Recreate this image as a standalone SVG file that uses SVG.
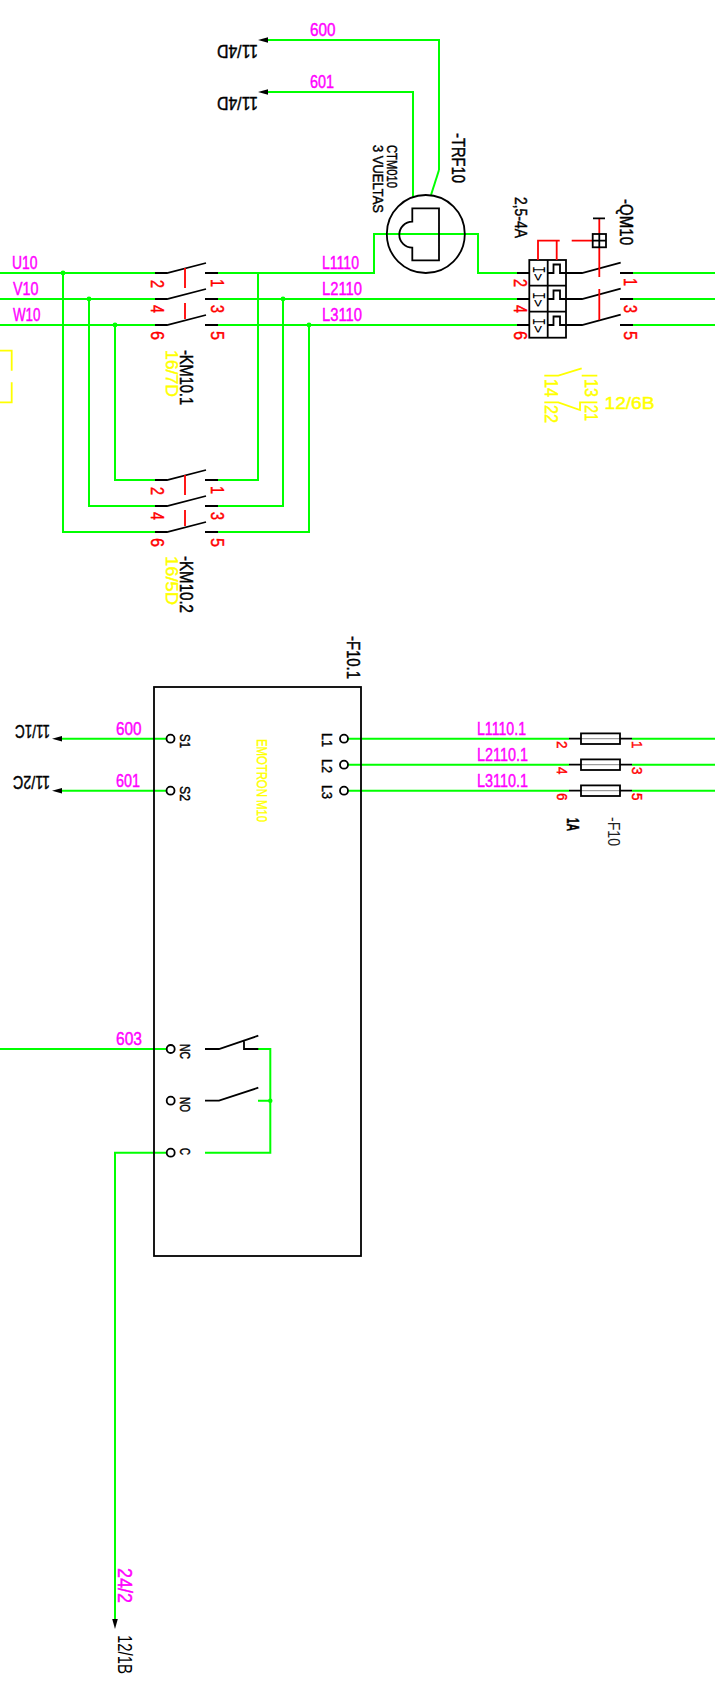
<svg xmlns="http://www.w3.org/2000/svg" xmlns:xlink="http://www.w3.org/1999/xlink" width="715" height="1683" viewBox="0 0 715 1683">
<style>
text{font-family:"Liberation Sans",Arial,sans-serif;font-size:18px;stroke-width:.45}
.w{fill:none;stroke:#00ff00;stroke-width:2}
.k{fill:none;stroke:#000;stroke-width:1.8}
.r{fill:none;stroke:#ff0000;stroke-width:1.8}
.y{fill:none;stroke:#ffff00;stroke-width:1.8}
.dot{fill:#00ff00}
.m{fill:#ff00ff;stroke:#ff00ff}
.p{fill:#ff0000;stroke:#ff0000;font-size:18px}
.p2{fill:#ff0000;stroke:#ff0000;font-size:15.5px}
.t{fill:#000;stroke:#000}
.l{fill:#ffff00;stroke:#ffff00}
.s{font-size:15.5px}
.plain{fill:#222;stroke:none;font-size:16px}
.mono{font-family:"DejaVu Sans Mono",monospace;font-size:15px;fill:#000}
</style>
<defs>
<marker id="arr" markerUnits="userSpaceOnUse" markerWidth="12" markerHeight="8" refX="0" refY="4" orient="auto" overflow="visible"><path d="M0 1.2 L10 4 L0 6.8 Z" fill="#000"/></marker>
<g id="pole"><path class="k" d="M155 0H167L206-10M205 0H218"/></g>
<g id="thermal"><path class="k" d="M548 0H553.5V-8.5H560V0H566"/></g>
<g id="fuse"><path class="k" d="M569 0H581M620 0H632"/><rect class="k" x="581" y="-5.3" width="39" height="10.6"/><path d="M581 0H620" stroke="#000" stroke-width=".8" fill="none" opacity=".6"/></g>
<circle id="term" r="4" fill="#fff" stroke="#000" stroke-width="1.8"/>
</defs>
<rect width="715" height="1683" fill="#fff"/>

<g id="connectors">
<path class="w" d="M439 170V40H268" marker-end="url(#arr)"/>
<path class="w" d="M439 170L431 195"/>
<path class="w" d="M413 197V92H268" marker-end="url(#arr)"/>
<path class="w" d="M0 273H155M218 273H374V234H478V273H517M633 273H715"/>
<path class="w" d="M0 299H155M218 299H517M633 299H715"/>
<path class="w" d="M0 325H155M218 325H517M633 325H715"/>
<path class="w" d="M115 325V480H155M89 299V506H155M63 273V532H155"/>
<path class="w" d="M258 273V480H218M283 299V506H218M309 325V532H218"/>
<circle class="dot" cx="63" cy="273" r="2.4"/><circle class="dot" cx="89" cy="299" r="2.4"/><circle class="dot" cx="115" cy="325" r="2.4"/>
<circle class="dot" cx="283" cy="299" r="2.4"/><circle class="dot" cx="309" cy="325" r="2.4"/>
<path class="w" d="M166 738.7H62" marker-end="url(#arr)"/>
<path class="w" d="M166 790.7H62" marker-end="url(#arr)"/>
<path class="w" d="M348 738.7H569M632 738.7H715M348 764.7H569M632 764.7H715M348 790.7H569M632 790.7H715"/>
<path class="w" d="M0 1049H166M258 1049H270.3V1152.7H205M258 1100.7H270.3"/>
<circle class="dot" cx="270.3" cy="1100.7" r="2.2"/>
<path class="w" d="M166 1152.7H115V1619" marker-end="url(#arr)"/>
</g>

<g id="wire-labels">
<text class="m" x="310" y="36" textLength="25.5" lengthAdjust="spacingAndGlyphs">600</text>
<text class="m" x="310" y="88" textLength="24" lengthAdjust="spacingAndGlyphs">601</text>
<text class="m" x="12" y="269" textLength="25.5" lengthAdjust="spacingAndGlyphs">U10</text>
<text class="m" x="13" y="295" textLength="25.5" lengthAdjust="spacingAndGlyphs">V10</text>
<text class="m" x="13" y="321" textLength="27.5" lengthAdjust="spacingAndGlyphs">W10</text>
<text class="m" x="322" y="269" textLength="37" lengthAdjust="spacingAndGlyphs">L1110</text>
<text class="m" x="322" y="295" textLength="40" lengthAdjust="spacingAndGlyphs">L2110</text>
<text class="m" x="322" y="321" textLength="40" lengthAdjust="spacingAndGlyphs">L3110</text>
<text class="m" x="116" y="735" textLength="25.5" lengthAdjust="spacingAndGlyphs">600</text>
<text class="m" x="116" y="787" textLength="24" lengthAdjust="spacingAndGlyphs">601</text>
<text class="m" x="116" y="1045" textLength="26" lengthAdjust="spacingAndGlyphs">603</text>
<text class="m" x="477" y="735.3" textLength="49" lengthAdjust="spacingAndGlyphs">L1110.1</text>
<text class="m" x="477" y="761" textLength="51" lengthAdjust="spacingAndGlyphs">L2110.1</text>
<text class="m" x="477" y="787" textLength="51" lengthAdjust="spacingAndGlyphs">L3110.1</text>
<text class="m" transform="translate(118 1568) rotate(90)" style="font-size:20px" textLength="35" lengthAdjust="spacingAndGlyphs">24/2</text>
</g>

<g id="refs">
<text class="t" transform="translate(258 45) rotate(180)" textLength="41" lengthAdjust="spacingAndGlyphs">11/4D</text>
<text class="t" transform="translate(258 97) rotate(180)" textLength="41" lengthAdjust="spacingAndGlyphs">11/4D</text>
<text class="t" transform="translate(50 725) rotate(180)" textLength="35" lengthAdjust="spacingAndGlyphs">11/1C</text>
<text class="t" transform="translate(50 776) rotate(180)" textLength="37" lengthAdjust="spacingAndGlyphs">11/2C</text>
<text class="t" transform="translate(118 1635) rotate(90)" style="font-size:20px;stroke:none" textLength="39" lengthAdjust="spacingAndGlyphs">12/1B</text>
</g>

<g id="KM10.1">
<use xlink:href="#pole" href="#pole" y="273"/><use xlink:href="#pole" href="#pole" y="299"/><use xlink:href="#pole" href="#pole" y="325"/>
<path class="r" d="M185 268V288M185 303V319"/>
<text class="p" transform="translate(151 280) rotate(90)" textLength="8" lengthAdjust="spacingAndGlyphs">2</text><text class="p" transform="translate(151 305) rotate(90)" textLength="8" lengthAdjust="spacingAndGlyphs">4</text><text class="p" transform="translate(151 331) rotate(90)" textLength="9" lengthAdjust="spacingAndGlyphs">6</text>
<text class="p" transform="translate(211 279) rotate(90)" textLength="8" lengthAdjust="spacingAndGlyphs">1</text><text class="p" transform="translate(211 305) rotate(90)" textLength="8" lengthAdjust="spacingAndGlyphs">3</text><text class="p" transform="translate(211 331) rotate(90)" textLength="9" lengthAdjust="spacingAndGlyphs">5</text>
<text class="t" transform="translate(180 350) rotate(90)" textLength="55" lengthAdjust="spacingAndGlyphs">-KM10.1</text>
<text class="l" transform="translate(166 350) rotate(90)" style="font-size:17px" textLength="47" lengthAdjust="spacingAndGlyphs">16/7D</text>
</g>

<g id="KM10.2">
<use xlink:href="#pole" href="#pole" y="480"/><use xlink:href="#pole" href="#pole" y="506"/><use xlink:href="#pole" href="#pole" y="532"/>
<path class="r" d="M185 475V495M185 510V526"/>
<text class="p" transform="translate(151 487) rotate(90)" textLength="8" lengthAdjust="spacingAndGlyphs">2</text><text class="p" transform="translate(151 512) rotate(90)" textLength="8" lengthAdjust="spacingAndGlyphs">4</text><text class="p" transform="translate(151 538) rotate(90)" textLength="9" lengthAdjust="spacingAndGlyphs">6</text>
<text class="p" transform="translate(211 486) rotate(90)" textLength="8" lengthAdjust="spacingAndGlyphs">1</text><text class="p" transform="translate(211 512) rotate(90)" textLength="8" lengthAdjust="spacingAndGlyphs">3</text><text class="p" transform="translate(211 538) rotate(90)" textLength="9" lengthAdjust="spacingAndGlyphs">5</text>
<text class="t" transform="translate(180 556) rotate(90)" textLength="57" lengthAdjust="spacingAndGlyphs">-KM10.2</text>
<text class="l" transform="translate(166 556) rotate(90)" style="font-size:17px" textLength="49" lengthAdjust="spacingAndGlyphs">16/5D</text>
</g>

<g id="TRF10">
<circle class="k" cx="425.8" cy="234" r="39"/>
<path class="k" d="M412.3 221.7V208.3H439V260.3H412.3V247.7A13 13 0 0 1 412.3 221.7Z"/>
<text class="t s" transform="translate(387 145) rotate(90)" textLength="43" lengthAdjust="spacingAndGlyphs">CTM010</text>
<text class="t s" transform="translate(373 145) rotate(90)" textLength="68" lengthAdjust="spacingAndGlyphs">3 VUELTAS</text>
<text class="t" transform="translate(452 133) rotate(90)" textLength="50" lengthAdjust="spacingAndGlyphs">-TRF10</text>
</g>

<g id="QM10">
<path class="k" d="M517 273H529M517 299H529M517 325H529"/>
<rect class="k" x="529.3" y="260" width="36.7" height="77.7"/>
<path class="k" d="M547.7 260V337.7M529.3 285.7H566M529.3 311.7H566"/>
<use xlink:href="#thermal" href="#thermal" y="273"/><use xlink:href="#thermal" href="#thermal" y="299"/><use xlink:href="#thermal" href="#thermal" y="325"/>
<text class="mono" transform="translate(533 266) rotate(90)" textLength="15" lengthAdjust="spacingAndGlyphs">I&gt;</text>
<text class="mono" transform="translate(533 292) rotate(90)" textLength="15" lengthAdjust="spacingAndGlyphs">I&gt;</text>
<text class="mono" transform="translate(533 318) rotate(90)" textLength="15" lengthAdjust="spacingAndGlyphs">I&gt;</text>
<path class="k" d="M566 273H582L620.7 262.7M620 273H633M566 299H582L620.7 288.7M620 299H633M566 325H582L620.7 314.7M620 325H633"/>
<path class="r" d="M538 260V240.7H559.7M556.7 240.7V260M571.7 240.7H592.7M599.3 218.3V234M599.3 247.3V277M599.3 289V320"/>
<rect class="k" x="592.7" y="234" width="13.3" height="13.3"/>
<path class="k" d="M599.3 234V247.3M592.7 240.7H606M593 218.3H605"/>
<text class="p" transform="translate(514 279) rotate(90)" textLength="8" lengthAdjust="spacingAndGlyphs">2</text><text class="p" transform="translate(514 305) rotate(90)" textLength="8" lengthAdjust="spacingAndGlyphs">4</text><text class="p" transform="translate(514 331) rotate(90)" textLength="9" lengthAdjust="spacingAndGlyphs">6</text>
<text class="p" transform="translate(624 278) rotate(90)" textLength="8" lengthAdjust="spacingAndGlyphs">1</text><text class="p" transform="translate(624 305) rotate(90)" textLength="8" lengthAdjust="spacingAndGlyphs">3</text><text class="p" transform="translate(624 331) rotate(90)" textLength="9" lengthAdjust="spacingAndGlyphs">5</text>
<text class="t" transform="translate(515 197) rotate(90)" style="font-size:17px" textLength="41" lengthAdjust="spacingAndGlyphs">2,5-4A</text>
<text class="t" transform="translate(620 199) rotate(90)" textLength="46" lengthAdjust="spacingAndGlyphs">-QM10</text>
</g>

<g id="QM10-aux">
<path class="y" d="M544.3 375.7H558.3L581.7 368.3M581.7 375.7H597.3M544.3 402.3H558.3L580 410V402.3H597.3"/>
<text class="l" transform="translate(545 379) rotate(90)" textLength="18" lengthAdjust="spacingAndGlyphs">14</text>
<text class="l" transform="translate(545 405) rotate(90)" textLength="18" lengthAdjust="spacingAndGlyphs">22</text>
<text class="l" transform="translate(585 379) rotate(90)" textLength="18" lengthAdjust="spacingAndGlyphs">13</text>
<text class="l" transform="translate(585 405) rotate(90)" textLength="16" lengthAdjust="spacingAndGlyphs">21</text>
<text class="l" x="604.5" y="409" style="font-size:16px" textLength="50" lengthAdjust="spacingAndGlyphs">12/6B</text>
</g>

<g id="yellow-frame"><path class="y" d="M0 350.7H11.7V370.7M11.7 382.3V402.3H0"/></g>

<g id="F10.1">
<rect class="k" x="154" y="687" width="207" height="569"/>
<use xlink:href="#term" href="#term" x="170.5" y="738.7"/><use xlink:href="#term" href="#term" x="170.5" y="790.7"/>
<use xlink:href="#term" href="#term" x="344" y="738.7"/><use xlink:href="#term" href="#term" x="344" y="764.7"/><use xlink:href="#term" href="#term" x="344" y="790.7"/>
<use xlink:href="#term" href="#term" x="170.7" y="1049"/><use xlink:href="#term" href="#term" x="170.7" y="1100.7"/><use xlink:href="#term" href="#term" x="170.7" y="1152.7"/>
<text class="t s" transform="translate(180 734) rotate(90)" textLength="14" lengthAdjust="spacingAndGlyphs">S1</text>
<text class="t s" transform="translate(180 786) rotate(90)" textLength="15" lengthAdjust="spacingAndGlyphs">S2</text>
<text class="t s" transform="translate(322 733) rotate(90)" textLength="14" lengthAdjust="spacingAndGlyphs">L1</text>
<text class="t s" transform="translate(322 759) rotate(90)" textLength="14" lengthAdjust="spacingAndGlyphs">L2</text>
<text class="t s" transform="translate(322 785) rotate(90)" textLength="14" lengthAdjust="spacingAndGlyphs">L3</text>
<text class="t s" transform="translate(180 1044) rotate(90)" textLength="15" lengthAdjust="spacingAndGlyphs">NC</text>
<text class="t s" transform="translate(180 1097) rotate(90)" textLength="15" lengthAdjust="spacingAndGlyphs">NO</text>
<text class="t s" transform="translate(180 1148) rotate(90)" textLength="7" lengthAdjust="spacingAndGlyphs">C</text>
<text class="l s" transform="translate(257 739) rotate(90)" textLength="83" lengthAdjust="spacingAndGlyphs">EMOTRON M10</text>
<text class="t" transform="translate(347 636) rotate(90)" textLength="43" lengthAdjust="spacingAndGlyphs">-F10.1</text>
<path class="k" d="M205 1049H219L258.3 1035.7M244 1039.7V1049H258.3M205 1100.7H219L258.3 1087.7"/>
</g>

<g id="F10">
<use xlink:href="#fuse" href="#fuse" y="738.7"/><use xlink:href="#fuse" href="#fuse" y="764.7"/><use xlink:href="#fuse" href="#fuse" y="790.7"/>
<text class="p2" transform="translate(557 741) rotate(90)" textLength="7.5" lengthAdjust="spacingAndGlyphs">2</text><text class="p2" transform="translate(557 767) rotate(90)" textLength="7.5" lengthAdjust="spacingAndGlyphs">4</text><text class="p2" transform="translate(557 793) rotate(90)" textLength="7.5" lengthAdjust="spacingAndGlyphs">6</text>
<text class="p2" transform="translate(632 741) rotate(90)" textLength="7.5" lengthAdjust="spacingAndGlyphs">1</text><text class="p2" transform="translate(632 767) rotate(90)" textLength="7.5" lengthAdjust="spacingAndGlyphs">3</text><text class="p2" transform="translate(632 793) rotate(90)" textLength="7.5" lengthAdjust="spacingAndGlyphs">5</text>
<text class="t" transform="translate(567 818) rotate(90)" style="font-size:16px;font-weight:bold" textLength="13" lengthAdjust="spacingAndGlyphs">1A</text>
<text class="plain" transform="translate(608 817) rotate(90)" textLength="29" lengthAdjust="spacingAndGlyphs">-F10</text>
</g>
</svg>
